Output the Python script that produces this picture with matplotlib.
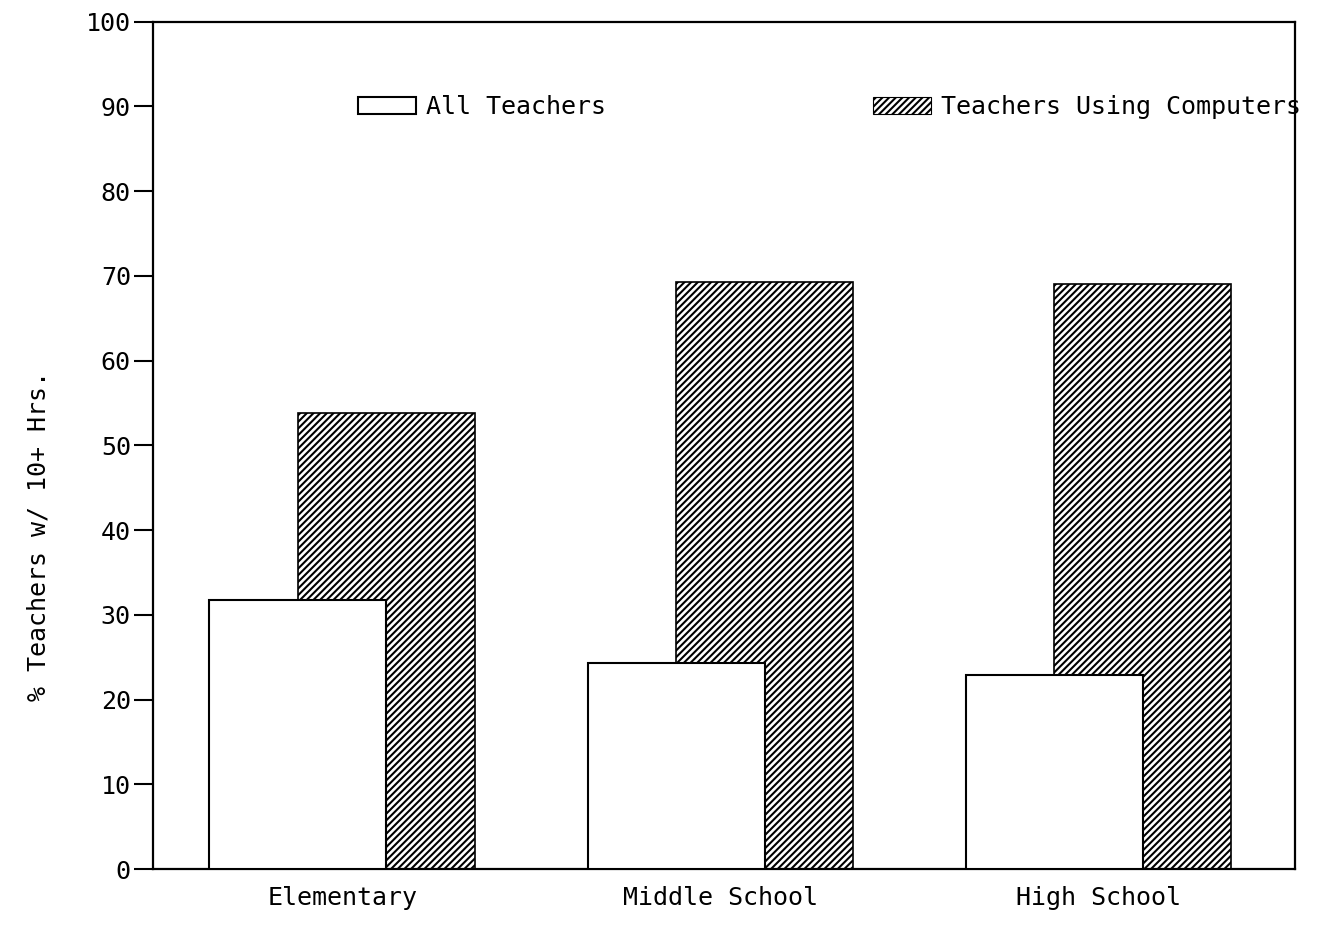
import matplotlib
matplotlib.use("Agg")
import matplotlib.pyplot as plt
import numpy as np
from matplotlib.patches import Patch

categories = ["Elementary", "Middle School", "High School"]
all_teachers = [31.8, 24.3, 22.9]
using_computers = [53.8, 69.3, 69.0]
yticks = [0, 10, 20, 30, 40, 50, 60, 70, 80, 90, 100]
series_names = ["All Teachers", "Teachers Using Computers"]
ylabel = "% Teachers w/ 10+ Hrs."

plt.rcParams['font.family'] = ['DejaVu Sans Mono']
plt.rcParams['hatch.linewidth'] = 1.5

fig = plt.figure(figsize=(13.33, 9.25), dpi=100)
ax = fig.add_axes([0.1148, 0.0605, 0.857, 0.916])

x = np.arange(len(categories))
w = 0.468
off = 0.117
ax.bar(x + off, using_computers, width=w, facecolor='white', edgecolor='black',
       hatch='/////', linewidth=1.2, zorder=2)
ax.bar(x - off, all_teachers, width=w, facecolor='white', edgecolor='black',
       linewidth=1.5, zorder=3)

ax.set_xlim(-0.5, 2.52)
ax.set_ylim(0, 100)
ax.set_yticks(yticks)
ax.set_yticklabels([str(v) for v in yticks], fontsize=18)
ax.set_xticks(x)
ax.set_xticklabels(categories, fontsize=18)
ax.tick_params(axis='y', length=14, width=1.5, pad=2)
ax.tick_params(axis='x', length=0, pad=12)
for s in ax.spines.values():
    s.set_linewidth(1.6)
ax.set_ylabel(ylabel, fontsize=18)
ax.yaxis.set_label_coords(-0.09, 0.393)

handles = [Patch(facecolor='white', edgecolor='black', linewidth=1.5),
           Patch(facecolor='white', edgecolor='black', hatch='/////', linewidth=0.8)]
ax.legend(handles, series_names, ncol=2, loc='center left',
          bbox_to_anchor=(0.1795, 0.899), frameon=False, fontsize=18,
          handlelength=2.3, handleheight=0.7, handletextpad=0.4,
          columnspacing=10.7, borderpad=0, borderaxespad=0)

fig.savefig("out.png", dpi=100)
